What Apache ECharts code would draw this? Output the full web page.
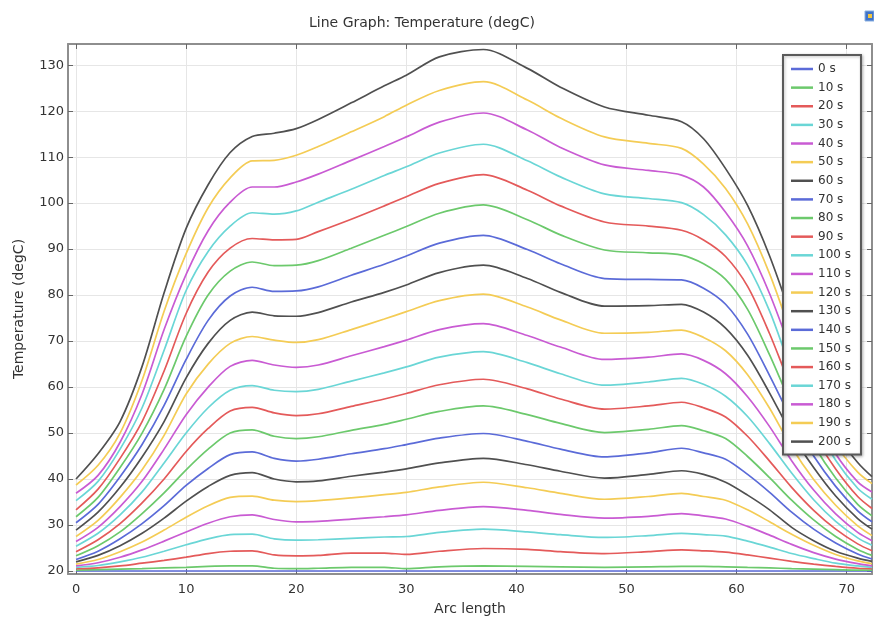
<!DOCTYPE html>
<html><head><meta charset="utf-8">
<script src="https://cdn.jsdelivr.net/npm/echarts@6/dist/echarts.min.js"></script>
<style>html,body{margin:0;padding:0;background:#fff}#c{width:874px;height:623px}</style>
</head><body><div id="c"></div>
<script>
// Arc length sample positions
const arcLength = [0,2,4,6,8,10,12,14,16,18,20,22,25,28,30,33,37,41,44,48,52,55,57,59,61,63,65,67,69,71,72.3];

// Temperature (degC) per time step
const t0   = [20,20,20,20,20,20,20,20,20,20,20,20,20,20,20,20,20,20,20,20,20,20,20,20,20,20,20,20,20,20,20];
const t10  = [20.2,20.3,20.4,20.5,20.7,20.8,21.0,21.1,21.1,20.6,20.5,20.6,20.8,20.8,20.5,20.9,21.1,21.0,20.9,20.8,20.9,21.0,21.0,20.9,20.8,20.7,20.5,20.4,20.3,20.2,20.2];
const t20  = [20.5,20.7,21.1,21.7,22.3,23.0,23.8,24.3,24.4,23.5,23.3,23.4,23.9,23.9,23.6,24.3,24.9,24.7,24.2,23.8,24.2,24.6,24.4,24.1,23.5,22.8,22.1,21.5,21.0,20.6,20.5];
const t30  = [20.8,21.2,22.0,23.0,24.3,25.7,27.0,27.9,28.0,27.0,26.7,26.8,27.1,27.4,27.5,28.4,29.1,28.5,27.9,27.3,27.7,28.2,27.9,27.6,26.5,25.2,23.8,22.7,21.7,21.1,20.8];
const t40  = [21.1,21.8,23.0,24.6,26.5,28.5,30.4,31.8,32.2,31.2,30.7,30.8,31.3,31.8,32.2,33.2,34.0,33.2,32.3,31.5,31.9,32.5,32.0,31.3,29.7,27.8,25.8,24.0,22.6,21.6,21.1];
const t50  = [21.5,22.5,24.2,26.3,28.9,31.7,34.2,36.0,36.3,35.4,35.1,35.3,35.9,36.6,37.1,38.3,39.3,38.1,36.9,35.6,36.2,36.9,36.2,35.4,33.3,30.7,28.0,25.6,23.6,22.2,21.6];
const t60  = [22.0,23.4,25.5,28.2,31.5,35.2,38.4,40.8,41.4,40.0,39.4,39.6,40.6,41.5,42.2,43.5,44.5,43.1,41.7,40.2,41.0,41.8,41.0,39.3,36.5,33.3,29.5,26.6,24.3,22.8,22.1];
const t70  = [22.5,24.3,27.0,30.3,34.2,38.6,42.3,45.3,45.9,44.5,43.9,44.3,45.5,46.6,47.5,48.9,49.9,48.2,46.5,44.8,45.7,46.7,45.7,44.3,41.0,37.1,32.8,29.1,26.1,23.7,22.6];
const t80  = [23.3,25.5,28.5,32.5,37.0,42.0,46.5,50.0,50.7,49.3,48.8,49.2,50.6,51.9,53.0,54.7,55.9,54.0,52.1,50.1,50.8,51.6,50.5,48.8,44.9,40.3,35.4,31.1,27.5,24.7,23.4];
const t90  = [24.2,26.8,30.3,34.8,40.0,46.0,51.0,54.8,55.6,54.4,53.8,54.2,55.8,57.4,58.6,60.5,61.7,59.6,57.4,55.2,55.9,56.7,55.5,53.5,49.3,43.9,38.2,33.2,29.1,25.9,24.4];
const t100 = [25.4,28.2,32.2,37.2,43.5,50.0,55.5,59.3,60.3,59.3,59.0,59.5,61.3,63.1,64.4,66.5,67.7,65.3,62.9,60.4,61.1,61.9,60.6,58.0,53.6,47.7,41.3,35.5,30.8,27.2,25.6];
const t110 = [26.4,29.5,34.0,39.5,46.5,54.0,60.0,64.5,65.8,64.8,64.3,64.8,66.8,68.8,70.2,72.5,73.8,71.2,68.7,66.0,66.5,67.2,65.8,62.9,57.9,51.4,44.0,37.6,32.4,28.4,26.6];
const t120 = [27.5,31.0,36.0,42.0,49.5,58.5,65.0,69.5,71.0,70.2,69.7,70.3,72.5,74.8,76.4,78.8,80.2,77.4,74.6,71.7,71.9,72.4,70.8,67.9,62.7,55.4,46.9,39.9,34.3,29.8,27.7];
const t130 = [28.9,32.8,38.2,44.8,52.5,62.0,69.5,74.5,76.3,75.5,75.4,76.2,78.5,80.6,82.2,84.9,86.5,83.6,80.6,77.6,77.7,78.0,76.3,72.8,66.9,58.7,49.8,42.5,36.3,31.4,29.1];
const t140 = [30.5,34.5,40.5,47.5,56.0,66.0,74.5,79.8,81.7,80.8,80.9,81.8,84.3,86.7,88.5,91.3,93.0,89.9,86.8,83.6,83.4,83.3,81.5,78.0,71.5,62.5,53.0,45.0,38.4,33.1,30.7];
const t150 = [31.8,36.0,42.5,50.0,59.5,71.0,80.0,85.2,87.2,86.4,86.5,87.5,90.2,93.0,94.9,97.8,99.6,96.4,93.1,89.8,89.2,88.7,86.8,83.4,76.9,67.0,56.2,47.4,40.2,34.5,32.0];
const t160 = [33.3,37.8,44.5,52.5,63.5,76.0,85.0,90.2,92.3,92.0,92.1,93.8,96.5,99.4,101.4,104.3,106.2,102.8,99.4,95.9,95.0,94.1,92.0,88.4,81.9,71.6,59.7,49.7,42.2,36.2,33.6];
const t170 = [35.3,39.5,46.5,55.5,68.0,81.0,89.5,95.0,97.9,97.6,98.3,100.2,103.0,106.0,107.9,110.9,112.8,109.2,105.7,102.0,101.0,100.1,97.5,93.1,86.5,76.5,63.6,52.4,44.1,38.0,35.6];
const t180 = [36.9,40.8,48.0,58.5,72.5,84.5,94.0,100.2,103.5,103.5,104.6,106.3,109.3,112.3,114.4,117.6,119.6,115.9,112.1,108.3,107.1,106.1,103.5,98.0,90.7,80.3,67.6,54.8,45.5,39.4,37.2];
const t190 = [38.7,43.0,50.0,61.5,76.5,89.0,99.0,105.5,109.2,109.3,110.4,112.3,115.5,118.8,121.3,124.5,126.4,122.4,118.5,114.4,113.0,111.9,108.5,103.2,95.5,84.6,71.3,57.5,47.6,41.5,39.0];
const t200 = [40.0,45.5,52.5,64.5,80.5,94.5,104.0,111.0,114.5,115.2,116.2,118.2,121.8,125.5,127.8,131.8,133.4,129.3,125.2,120.9,119.1,117.7,114.0,107.5,99.5,88.5,75.0,60.3,50.0,43.6,40.5];

const timeLabels = ['0 s','10 s','20 s','30 s','40 s','50 s','60 s','70 s','80 s','90 s','100 s','110 s','120 s','130 s','140 s','150 s','160 s','170 s','180 s','190 s','200 s'];
const xTicks = [0,10,20,30,40,50,60,70];
const yTicks = [20,30,40,50,60,70,80,90,100,110,120,130];

const temps = [t0,t10,t20,t30,t40,t50,t60,t70,t80,t90,t100,t110,t120,t130,t140,t150,t160,t170,t180,t190,t200];
const palette = ['#5b6bd8','#6cc96c','#e45a5a','#6ad6d6','#c95bd3','#f4cc55','#505050'];
const FONT = 'DejaVu Sans';

const axisLineStyle = {color:'#8e8e8e', width:2};
const tickStyle = {color:'#666', width:1};

const chart = echarts.init(document.getElementById('c'), null, {renderer:'canvas'});
chart.setOption({
  animation: false,
  backgroundColor: '#fff',
  color: palette,
  title: {
    text: 'Line Graph: Temperature (degC)', left: 304, top: 11,
    textStyle: {fontFamily: FONT, fontSize: 14, fontWeight: 'normal', color: '#333'}
  },
  graphic: [
    {type:'rect', shape:{x:865, y:11, width:9, height:10}, style:{fill:'#3f73c9', stroke:'#8ab0e0', lineWidth:1}},
    {type:'rect', shape:{x:868, y:14, width:4, height:4}, style:{fill:'#f2c640'}}
  ],
  legend: {
    orient: 'vertical', left: 783, top: 55,
    padding: [6, 10, 5, 8],
    icon: 'rect',
    itemWidth: 22, itemHeight: 2.5, itemGap: 2.63,
    backgroundColor: '#fff', borderColor: '#5a5a5a', borderWidth: 2,
    shadowColor: 'rgba(0,0,0,0.25)', shadowBlur: 3, shadowOffsetX: 1, shadowOffsetY: 1,
    textStyle: {fontFamily: FONT, fontSize: 12, color: '#333', lineHeight: 16},
    data: timeLabels
  },
  grid: {left: 68, right: 2, top: 44, bottom: 49, containLabel: false},
  xAxis: [
    {
      type: 'value', min: -0.73, max: 72.3, position: 'bottom',
      name: 'Arc length', nameLocation: 'middle', nameGap: 28,
      nameTextStyle: {fontFamily: FONT, fontSize: 14, color: '#333'},
      axisLine: {show: true, onZero: false, lineStyle: axisLineStyle},
      axisTick: {show: true, inside: true, length: 5, customValues: xTicks, lineStyle: tickStyle},
      axisLabel: {customValues: xTicks, margin: 9, fontFamily: FONT, fontSize: 13, color: '#333'},
      splitLine: {show: true, lineStyle: {color: '#e6e6e6', width: 1}}
    },
    {
      type: 'value', min: -0.73, max: 72.3, position: 'top',
      axisLine: {show: true, onZero: false, lineStyle: axisLineStyle},
      axisTick: {show: true, inside: true, length: 5, customValues: xTicks, lineStyle: tickStyle},
      axisLabel: {show: false},
      splitLine: {show: false}
    }
  ],
  yAxis: [
    {
      type: 'value', min: 19.35, max: 134.6, position: 'left',
      name: 'Temperature (degC)', nameLocation: 'middle', nameGap: 42,
      nameTextStyle: {fontFamily: FONT, fontSize: 14, color: '#333'},
      axisLine: {show: true, onZero: false, lineStyle: axisLineStyle},
      axisTick: {show: true, inside: true, length: 5, customValues: yTicks, lineStyle: tickStyle},
      axisLabel: {customValues: yTicks, margin: 4, fontFamily: FONT, fontSize: 13, color: '#333'},
      splitLine: {show: true, lineStyle: {color: '#e6e6e6', width: 1}}
    },
    {
      type: 'value', min: 19.35, max: 134.6, position: 'right',
      axisLine: {show: true, onZero: false, lineStyle: axisLineStyle},
      axisTick: {show: true, inside: true, length: 5, customValues: yTicks, lineStyle: tickStyle},
      axisLabel: {show: false},
      splitLine: {show: false}
    }
  ],
  series: temps.map((arr, i) => ({
    name: timeLabels[i],
    type: 'line',
    xAxisIndex: 0, yAxisIndex: 0,
    symbol: 'none',
    smooth: 0.3,
    lineStyle: {width: 1.7, color: palette[i % palette.length]},
    itemStyle: {color: palette[i % palette.length]},
    data: arcLength.map((x, j) => [x, arr[j]])
  }))
});
</script></body></html>
